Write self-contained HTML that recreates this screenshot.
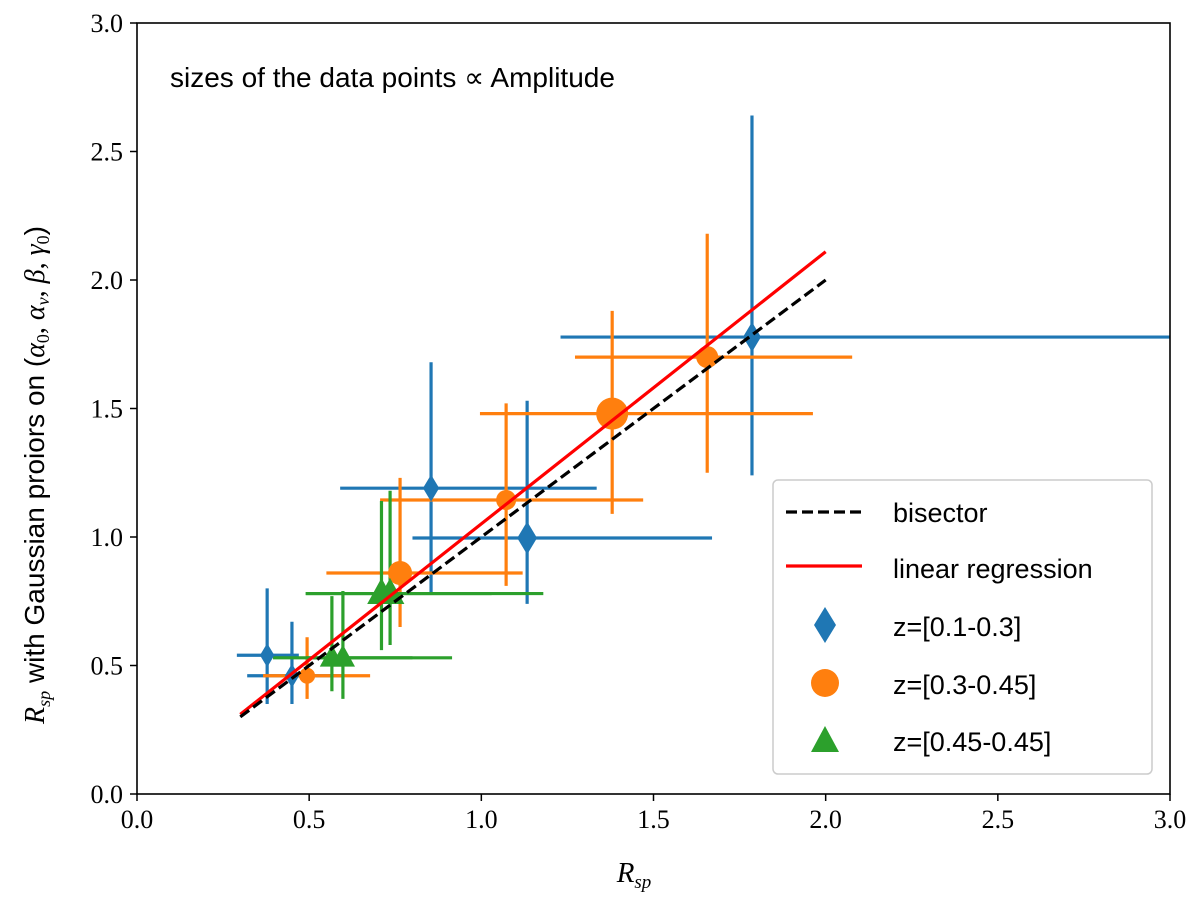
<!DOCTYPE html>
<html><head><meta charset="utf-8"><style>
body{margin:0;background:#fff;}
svg{display:block;font-family:"Liberation Sans",sans-serif;}
</style></head><body>
<svg id="chart" width="1200" height="909" viewBox="0 0 1200 909" xmlns="http://www.w3.org/2000/svg">
<g id="marks"></g>
<g id="axes"></g>
</svg>
<script>
// data
const blueX=[0.378,0.45,0.854,1.133,1.786];
const blueY=[0.54,0.46,1.19,0.996,1.778];
const blueXlo=[0.29,0.32,0.59,0.80,1.23];
const blueXhi=[0.47,0.60,1.335,1.67,3.2];
const blueYlo=[0.35,0.35,0.78,0.74,1.24];
const blueYhi=[0.80,0.67,1.68,1.53,2.64];
const blueS=[8,8,9,11,10];
const orX=[0.494,0.764,1.072,1.38,1.656];
const orY=[0.46,0.86,1.144,1.48,1.70];
const orXlo=[0.366,0.55,0.706,0.996,1.272];
const orXhi=[0.677,1.12,1.47,1.963,2.077];
const orYlo=[0.37,0.65,0.81,1.09,1.25];
const orYhi=[0.61,1.23,1.52,1.88,2.18];
const orS=[8,12,10,16,11];
const grX=[0.566,0.598,0.71,0.735];
const grY=[0.53,0.53,0.78,0.78];
const grXlo=[0.395,0.49,0.49,0.49];
const grXhi=[0.80,0.915,1.03,1.18];
const grYlo=[0.40,0.37,0.56,0.58];
const grYhi=[0.77,0.79,1.14,1.18];
const grS=[11,11,13,13];
const bisector=[[0.3,0.3],[2.0,2.0]];
const regression=[[0.3,0.31],[2.0,2.11]];
const ticks=[0,0.5,1.0,1.5,2.0,2.5,3.0];
const tickLabels=["0.0","0.5","1.0","1.5","2.0","2.5","3.0"];

const X0=137,X1=1170,Y0=794,Y1=23;
const sx=v=>X0+(X1-X0)*v/3, sy=v=>Y0-(Y0-Y1)*v/3;
const NS="http://www.w3.org/2000/svg";
const marks=document.getElementById('marks'), axes=document.getElementById('axes');
function mk(tag,attrs,parent){const e=document.createElementNS(NS,tag);for(const k in attrs)e.setAttribute(k,attrs[k]);parent.appendChild(e);return e;}
const defs=mk('defs',{},marks);
const cp=mk('clipPath',{id:'clip'},defs);
mk('rect',{x:X0,y:Y1,width:X1-X0,height:Y0-Y1},cp);
const g=mk('g',{'clip-path':'url(#clip)'},marks);
function series(xs,ys,xlo,xhi,ylo,yhi,sz,col,shape,name){
  for(let i=0;i<xs.length;i++){
    const h=mk('line',{x1:sx(xlo[i]),x2:sx(xhi[i]),y1:sy(ys[i]),y2:sy(ys[i]),stroke:col,'stroke-width':3.2},g);
    
    
    const v=mk('line',{x1:sx(xs[i]),x2:sx(xs[i]),y1:sy(ylo[i]),y2:sy(yhi[i]),stroke:col,'stroke-width':3.2},g);
    
    
  }
}
function points(xs,ys,sz,col,shape,name){
  for(let i=0;i<xs.length;i++){
    const cx=sx(xs[i]),cy=sy(ys[i]),s=sz[i];let e;
    if(shape==='d')e=mk('polygon',{points:`${cx},${cy-s*1.5} ${cx+s*0.9},${cy} ${cx},${cy+s*1.5} ${cx-s*0.9},${cy}`,fill:col},g);
    else if(shape==='c')e=mk('circle',{cx:cx,cy:cy,r:s,fill:col},g);
    else e=mk('polygon',{points:`${cx},${cy-s*1.2} ${cx+s*1.1},${cy+s*0.8} ${cx-s*1.1},${cy+s*0.8}`,fill:col},g);
    
    
  }
}
series(blueX,blueY,blueXlo,blueXhi,blueYlo,blueYhi,blueS,'#1f77b4','d','blue');
series(orX,orY,orXlo,orXhi,orYlo,orYhi,orS,'#ff7f0e','c','orange');
series(grX,grY,grXlo,grXhi,grYlo,grYhi,grS,'#2ca02c','t','green');
points(blueX,blueY,blueS,'#1f77b4','d','blue');
points(orX,orY,orS,'#ff7f0e','c','orange');
points(grX,grY,grS,'#2ca02c','t','green');
const rl=mk('line',{x1:sx(regression[0][0]),y1:sy(regression[0][1]),x2:sx(regression[1][0]),y2:sy(regression[1][1]),stroke:'#ff0000','stroke-width':3.2},g);


const bl=mk('line',{x1:sx(bisector[0][0]),y1:sy(bisector[0][1]),x2:sx(bisector[1][0]),y2:sy(bisector[1][1]),stroke:'#000','stroke-width':3.2,'stroke-dasharray':'11 5'},g);


const fr=mk('rect',{x:X0,y:Y1,width:X1-X0,height:Y0-Y1,fill:'none',stroke:'#000','stroke-width':1.6},axes);


for(let i=0;i<ticks.length;i++){
  mk('line',{x1:sx(ticks[i]),x2:sx(ticks[i]),y1:Y0,y2:Y0+7,stroke:'#000','stroke-width':1.5},axes);
  mk('line',{x1:X0-7,x2:X0,y1:sy(ticks[i]),y2:sy(ticks[i]),stroke:'#000','stroke-width':1.5},axes);
  const tx=mk('text',{x:sx(ticks[i]),y:Y0+34,'text-anchor':'middle','font-size':26,'font-family':'Liberation Serif, serif'},axes);
  tx.textContent=tickLabels[i];
  
  
  const ty=mk('text',{x:X0-14,y:sy(ticks[i])+9,'text-anchor':'end','font-size':26,'font-family':'Liberation Serif, serif'},axes);
  ty.textContent=tickLabels[i];
  
  
}
</script>
<svg style="position:absolute;left:0;top:0" width="1200" height="909" xmlns="http://www.w3.org/2000/svg">
<text x="170" y="87" font-size="28" font-family="Liberation Sans, sans-serif">sizes of the data points ∝ Amplitude</text>
<text x="634" y="882" text-anchor="middle" font-size="29" font-style="italic" font-family="Liberation Serif, serif">R<tspan font-size="19" dy="6">sp</tspan></text>
<text transform="translate(44,475) rotate(-90)" text-anchor="middle" font-size="28" font-family="Liberation Sans, sans-serif"><tspan font-style="italic" font-family="Liberation Serif, serif">R</tspan><tspan font-size="18" dy="6" font-style="italic" font-family="Liberation Serif, serif">sp</tspan><tspan dy="-6"> with Gaussian proiors on (</tspan><tspan font-style="italic" font-family="Liberation Serif, serif">α</tspan><tspan font-size="18" dy="5" font-family="Liberation Serif, serif">0</tspan><tspan dy="-5" font-family="Liberation Serif, serif">, </tspan><tspan font-style="italic" font-family="Liberation Serif, serif">α</tspan><tspan font-size="18" dy="5" font-style="italic" font-family="Liberation Serif, serif">ν</tspan><tspan dy="-5" font-family="Liberation Serif, serif">, </tspan><tspan font-style="italic" font-family="Liberation Serif, serif">β</tspan><tspan font-family="Liberation Serif, serif">, </tspan><tspan font-style="italic" font-family="Liberation Serif, serif">γ</tspan><tspan font-size="18" dy="5" font-family="Liberation Serif, serif">0</tspan><tspan dy="-5">)</tspan></text>
<g>
<rect x="773" y="480" width="379" height="294" rx="5" fill="#fff" stroke="#ccc" stroke-width="1.5"/>
<line x1="786" y1="512" x2="862" y2="512" stroke="#000" stroke-width="3.2" stroke-dasharray="11 5"/>
<text x="893" y="522" font-size="27">bisector</text>
<line x1="786" y1="566" x2="862" y2="566" stroke="#ff0000" stroke-width="3.2"/>
<text x="893" y="578" font-size="27">linear regression</text>
<polygon points="825,607 836,625 825,643 814,625" fill="#1f77b4"/>
<text x="893" y="636" font-size="27">z=[0.1-0.3]</text>
<circle cx="825" cy="683" r="14" fill="#ff7f0e"/>
<text x="893" y="694" font-size="27">z=[0.3-0.45]</text>
<polygon points="825,726 839,752 811,752" fill="#2ca02c"/>
<text x="893" y="751" font-size="27">z=[0.45-0.45]</text>
</g>
</svg>
</body></html>
